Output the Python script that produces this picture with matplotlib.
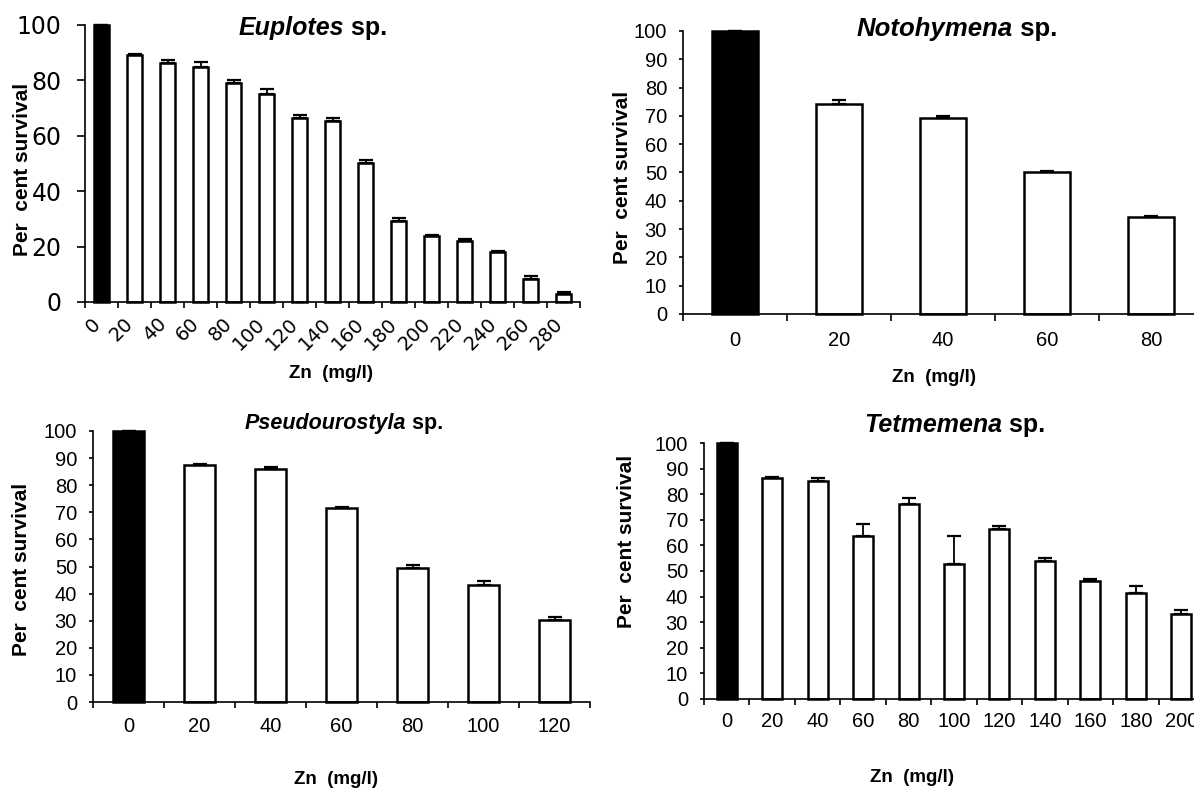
import matplotlib
matplotlib.use('Agg')
import matplotlib.pyplot as plt
import numpy as np
from matplotlib.transforms import ScaledTranslation

W, H = 1194, 794
DPI = 100

# ---------------- data ----------------
eup_conc = [0, 20, 40, 60, 80, 100, 120, 140, 160, 180, 200, 220, 240, 260, 280]
eup_surv = [100, 89, 86.3, 85, 79, 75, 66.5, 65.3, 50.2, 29.2, 23.8, 22.2, 18.2, 8.3, 3.0]
eup_err = [0, 0.4, 1.0, 1.5, 1.0, 2.0, 1.0, 1.0, 1.0, 1.0, 0.3, 0.4, 0.3, 1.0, 0.5]

not_conc = [0, 20, 40, 60, 80]
not_surv = [100, 74.2, 69.3, 50.1, 34.2]
not_err = [0, 1.5, 0.5, 0.5, 0.5]

pse_conc = [0, 20, 40, 60, 80, 100, 120]
pse_surv = [100, 87.6, 85.8, 71.7, 49.3, 43.0, 30.3]
pse_err = [0, 0.2, 1.0, 0.4, 1.2, 1.5, 1.0]

tet_conc = [0, 20, 40, 60, 80, 100, 120, 140, 160, 180, 200]
tet_surv = [100, 86.3, 85.0, 63.5, 76.2, 52.7, 66.5, 54.0, 46.0, 41.6, 33.2]
tet_err = [0, 0.5, 1.5, 5.0, 2.5, 11.0, 1.0, 1.0, 0.7, 2.5, 1.5]

titles = [("Euplotes", " sp."), ("Notohymena", " sp."),
          ("Pseudourostyla", " sp."), ("Tetmemena", " sp.")]
ylabel_text = "Per  cent survival"
xlabel_text = "Zn  (mg/l)"

ARIAL = 'Liberation Sans'
WIDE = 'DejaVu Sans'

fig = plt.figure(figsize=(W / DPI, H / DPI), dpi=DPI)


def rect(l, r, t, b):
    return [l / W, 1 - b / H, (r - l) / W, (b - t) / H]


def panel(r, conc, surv, err, yticks, tickfont, ticksize, rotate=False,
          ytlen=3, ypad=8.5, xtlen=5, xpad=6):
    ax = fig.add_axes(r)
    x = np.arange(len(conc))
    colors = ['black'] + ['white'] * (len(conc) - 1)
    ax.bar(x, surv, width=0.44, color=colors, edgecolor='black', linewidth=1.8, zorder=2, clip_on=False)
    ax.errorbar(x, surv, yerr=[np.zeros(len(err)), err], fmt='none', ecolor='black',
                elinewidth=1.3, capsize=5, capthick=1.6, zorder=3, clip_on=False)
    ax.set_xlim(-0.5, len(conc) - 0.5)
    ax.set_ylim(0, 100)
    for s in ('top', 'right'):
        ax.spines[s].set_visible(False)
    for s in ('left', 'bottom'):
        ax.spines[s].set_linewidth(1.2)
    ax.set_yticks(yticks)
    ax.set_yticklabels([str(v) for v in yticks], fontsize=ticksize, family=tickfont)
    ax.tick_params(axis='y', direction='out', length=ytlen, width=1.2, pad=ypad)
    ax.set_xticks(x)
    ax.set_xticks(np.arange(len(conc) + 1) - 0.5, minor=True)
    ax.tick_params(axis='x', which='major', length=0)
    ax.tick_params(axis='x', which='minor', length=xtlen, width=1.2)
    if rotate:
        ax.tick_params(axis='x', which='major', pad=0)
        labs = ax.set_xticklabels([str(c) for c in conc], fontsize=14, family=tickfont,
                                  rotation=45, ha='right', va='center', rotation_mode='anchor')
        off = ScaledTranslation(-4 / DPI, -19 / DPI, fig.dpi_scale_trans)
        for lab in labs:
            lab.set_transform(lab.get_transform() + off)
    else:
        ax.set_xticklabels([str(c) for c in conc], fontsize=ticksize, family=tickfont)
        ax.tick_params(axis='x', which='major', pad=xpad)
    return ax


ax1 = panel(rect(85, 580, 25, 302), eup_conc, eup_surv, eup_err, [0, 20, 40, 60, 80, 100],
            WIDE, 17, rotate=True, ytlen=6, ypad=11, xtlen=4.5)
ax2 = panel(rect(683, 1203, 31, 314), not_conc, not_surv, not_err, list(range(0, 101, 10)),
            ARIAL, 14.5, xtlen=5, xpad=12)
ax3 = panel(rect(93, 590, 431, 702), pse_conc, pse_surv, pse_err, list(range(0, 101, 10)),
            ARIAL, 14.5, xtlen=4.5, xpad=10.5)
ax4 = panel(rect(704, 1204, 443, 699), tet_conc, tet_surv, tet_err, list(range(0, 101, 10)),
            ARIAL, 14.5, xtlen=4.5, xpad=9.5)

renderer = fig.canvas.get_renderer()


def title(x_px, y_px, parts, size):
    t1 = fig.text(0, 0, parts[0], fontsize=size, fontweight='bold', fontstyle='italic', family=ARIAL, va='center')
    t2 = fig.text(0, 0, parts[1], fontsize=size, fontweight='bold', family=ARIAL, va='center')
    w1 = t1.get_window_extent(renderer).width
    w2 = t2.get_window_extent(renderer).width
    x0 = x_px - (w1 + w2) / 2
    t1.set_position((x0 / W, 1 - y_px / H))
    t2.set_position(((x0 + w1) / W, 1 - y_px / H))


title(313, 28, titles[0], 18)
title(957, 29, titles[1], 18.5)
title(344, 423, titles[2], 15.5)
title(955, 425, titles[3], 18)

for (xp, yp) in [(23, 169), (623, 177), (22, 569), (627, 541)]:
    fig.text(xp / W, 1 - yp / H, ylabel_text, rotation=90, fontsize=15, fontweight='bold',
             family=ARIAL, ha='center', va='center')

for (xp, yp) in [(331, 374), (934, 377), (336, 780), (912, 777)]:
    fig.text(xp / W, 1 - yp / H, xlabel_text, fontsize=13.5, fontweight='bold',
             family=ARIAL, ha='center', va='center')

fig.savefig('out.png', dpi=DPI)
